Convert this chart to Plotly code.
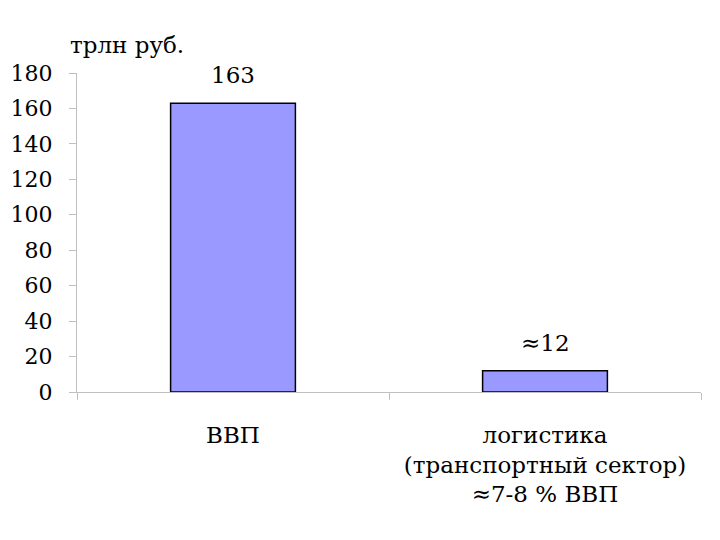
import plotly.graph_objects as go

categories = ["ВВП", "логистика<br>(транспортный сектор)<br>≈7-8 % ВВП"]
values = [163, 12]
value_labels = ["163", "≈12"]
y_ticks = [0, 20, 40, 60, 80, 100, 120, 140, 160, 180]
unit_label = "трлн руб."

FONT = "DejaVu Serif"

fig = go.Figure(
    go.Bar(
        x=categories,
        y=values,
        marker=dict(color="#9999FF", line=dict(color="black", width=1.5)),
        width=0.4,
    )
)

for cat, val, lab in zip(categories, values, value_labels):
    fig.add_annotation(
        x=cat, y=val, text=lab, showarrow=False,
        yanchor="middle", yshift=28,
        font=dict(family=FONT, size=23, color="black"),
    )

fig.update_layout(
    width=704,
    height=524,
    margin=dict(l=69, r=11, t=65, b=140, autoexpand=False),
    paper_bgcolor="white",
    plot_bgcolor="white",
    showlegend=False,
    font=dict(family=FONT, size=22, color="black"),
)

fig.update_yaxes(
    range=[0, 180],
    tickvals=y_ticks,
    ticks="outside",
    ticklen=7,
    tickcolor="#c0c0c0",
    showline=True,
    linecolor="#c0c0c0",
    linewidth=1,
    showgrid=False,
    zeroline=False,
    automargin=False,
    ticklabelstandoff=12,
    tickfont=dict(family=FONT, size=22, color="black"),
)

fig.update_xaxes(
    ticks="outside",
    tickson="boundaries",
    ticklen=7,
    tickcolor="#c0c0c0",
    showline=True,
    linecolor="#c0c0c0",
    linewidth=1,
    showgrid=False,
    automargin=False,
    ticklabelstandoff=22,
    tickfont=dict(family=FONT, size=23, color="black"),
)

fig.add_annotation(
    text=unit_label,
    xref="paper",
    yref="paper",
    x=-0.014,
    y=1.0,
    yshift=28,
    xanchor="left",
    yanchor="middle",
    showarrow=False,
    font=dict(family=FONT, size=23, color="black"),
)

fig.write_html("out.html")
